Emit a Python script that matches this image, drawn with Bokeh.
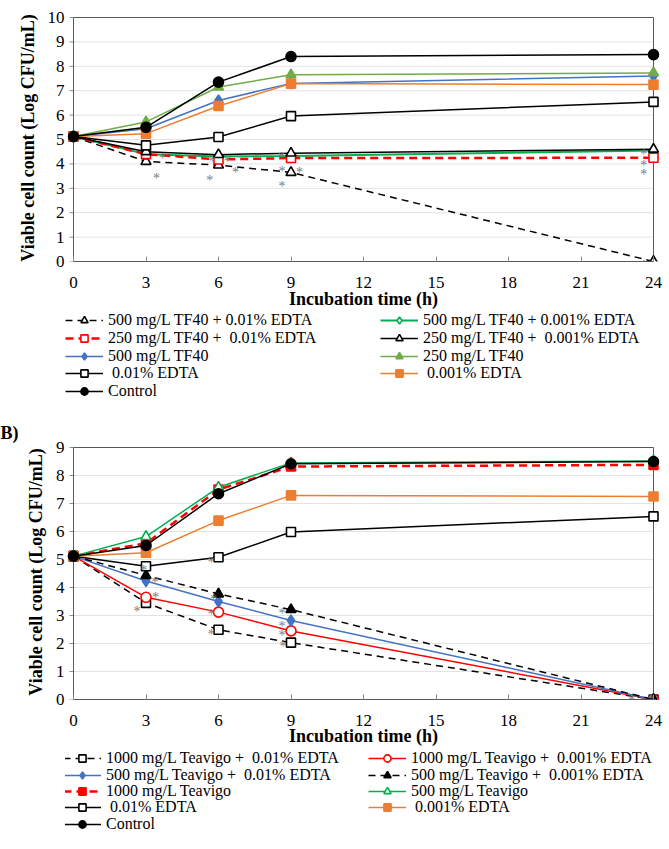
from bokeh.plotting import figure
from bokeh.models import Range1d, FixedTicker, Legend, LegendItem, ColumnDataSource
from bokeh.layouts import column
from bokeh.core.properties import value
from bokeh.embed import file_html
from bokeh.resources import INLINE

# ---------------- data ----------------
times = [0, 3, 6, 9, 24]
x_ticks = [0, 3, 6, 9, 12, 15, 18, 21, 24]
X_MAX = 24

# Panel A (TF40)
a_labels = [
    "500 mg/L TF40 + 0.01% EDTA",
    "500 mg/L TF40 + 0.001% EDTA",
    "250 mg/L TF40 +  0.01% EDTA",
    "250 mg/L TF40 +  0.001% EDTA",
    "500 mg/L TF40",
    "250 mg/L TF40",
    " 0.01% EDTA",
    " 0.001% EDTA",
    "Control",
]
a_tf500_edta01 = [5.12, 4.10, 3.95, 3.65, 0.0]
a_tf500_edta001 = [5.12, 4.40, 4.30, 4.32, 4.55]
a_tf250_edta01 = [5.12, 4.40, 4.18, 4.24, 4.25]
a_tf250_edta001 = [5.12, 4.50, 4.38, 4.44, 4.60]
a_tf500 = [5.12, 5.44, 6.60, 7.30, 7.60]
a_tf250 = [5.12, 5.72, 7.15, 7.65, 7.73]
a_edta01 = [5.12, 4.76, 5.10, 5.96, 6.54]
a_edta001 = [5.12, 5.24, 6.37, 7.29, 7.25]
a_control = [5.12, 5.50, 7.35, 8.40, 8.48]
a_star_x = [3.43, 3.68, 5.64, 5.74, 6.36, 6.70, 8.60, 8.63, 8.63, 9.35, 23.6, 23.6, 23.6, 23.6]
a_star_y = [3.73, 4.53, 3.66, 4.42, 4.42, 3.98, 4.60, 4.00, 3.39, 3.98, 4.73, 4.27, 3.90, 0.15]

# Panel B (Teavigo)
b_labels = [
    "1000 mg/L Teavigo +  0.01% EDTA",
    "1000 mg/L Teavigo +  0.001% EDTA",
    "500 mg/L Teavigo +  0.01% EDTA",
    "500 mg/L Teavigo +  0.001% EDTA",
    "1000 mg/L Teavigo",
    "500 mg/L Teavigo",
    " 0.01% EDTA",
    " 0.001% EDTA",
    "Control",
]
b_t1000_edta01 = [5.12, 3.45, 2.49, 2.03, 0.0]
b_t1000_edta001 = [5.12, 3.65, 3.12, 2.45, 0.0]
b_t500_edta01 = [5.12, 4.23, 3.50, 2.82, 0.0]
b_t500_edta001 = [5.12, 4.43, 3.77, 3.21, 0.0]
b_t1000 = [5.12, 5.58, 7.50, 8.32, 8.38]
b_t500 = [5.12, 5.82, 7.58, 8.45, 8.52]
b_edta01 = [5.12, 4.76, 5.08, 5.98, 6.54]
b_edta001 = [5.12, 5.24, 6.39, 7.29, 7.25]
b_control = [5.12, 5.50, 7.35, 8.42, 8.50]
b_star_x = [2.91, 3.37, 3.39, 2.63, 5.70, 5.80, 5.70, 5.70, 8.63, 8.63, 8.63, 8.67, 22.13, 23.10, 23.55, 23.90]
b_star_y = [4.90, 4.45, 3.93, 3.42, 5.17, 3.86, 3.32, 2.61, 3.36, 2.90, 2.56, 2.17, 0.03, 0.25, 0.10, 0.28]

# ---------------- styles ----------------
BLACK = "#000000"
BLUE = "#4472c4"
ORANGE = "#ed7d31"
GREEN_L = "#70ad47"
GREEN = "#00b050"
RED = "#ff0000"
AXIS = "#595959"
SERIF = "Liberation Serif"

# (color, dash, line width, marker, filled, size)
a_styles = [
    (BLACK, "7 5", 1.5, "triangle", False, 10),
    (GREEN, "solid", 2, "diamond", False, 11),
    (RED, "8 5", 2.5, "square", False, 9),
    (BLACK, "solid", 1.5, "triangle", False, 10),
    (BLUE, "solid", 1.5, "diamond", True, 11),
    (GREEN_L, "solid", 1.5, "triangle", True, 10),
    (BLACK, "solid", 1.5, "square", False, 9),
    (ORANGE, "solid", 1.5, "square", True, 9),
    (BLACK, "solid", 1.5, "circle", True, 10),
]
b_styles = [
    (BLACK, "7 5", 1.5, "square", False, 9),
    (RED, "solid", 1.5, "circle", False, 10),
    (BLUE, "solid", 1.5, "diamond", True, 11),
    (BLACK, "7 5", 1.5, "triangle", True, 10),
    (RED, "8 5", 2.5, "square", True, 9),
    (GREEN, "solid", 1.5, "triangle", False, 10),
    (BLACK, "solid", 1.5, "square", False, 9),
    (ORANGE, "solid", 1.5, "square", True, 9),
    (BLACK, "solid", 1.5, "circle", True, 10),
]

PLOT_W = 580  # pixel width of the 0..24 h axis
PAD = 8       # extra frame pixels left/right so edge markers are not clipped
LEFT = 73     # pixel position of x = 0
ROW_H = 18    # legend row box height


def draw_series(p, series, styles):
    rends = []
    for ys, st in zip(series, styles):
        color, dash, lw, marker, filled, size = st
        src = ColumnDataSource(dict(t=times, v=ys))
        lr = p.line("t", "v", source=src, line_color=color, line_width=lw, line_dash=dash)
        sr = p.scatter("t", "v", source=src, marker=marker, size=size,
                       line_color=color, line_width=1.6,
                       fill_color=color if filled else "white")
        rends.append([lr, sr])
    return rends


def make_chart(height, border_top, plot_h, ymax, series, styles, star_x, star_y,
               title_standoff, tag=None):
    px_x = PLOT_W / X_MAX
    px_y = plot_h / ymax
    pad_x = PAD / px_x
    pad_top = 3 / px_y
    p = figure(width=669, height=height, output_backend="svg", toolbar_location=None,
               x_range=Range1d(-pad_x, X_MAX + pad_x), y_range=Range1d(0, ymax + pad_top),
               min_border_left=LEFT - PAD, min_border_right=16 - PAD,
               min_border_top=border_top - 3, min_border_bottom=height - border_top - plot_h)
    p.background_fill_color = "white"
    p.border_fill_color = "white"
    p.outline_line_color = None
    p.xgrid.grid_line_color = None
    p.ygrid.grid_line_color = None

    yt = list(range(0, ymax + 1))
    n = len(yt)
    # horizontal gridlines, box (top/right), y axis line and its outward ticks
    p.segment(x0=[0] * n, y0=yt, x1=[X_MAX] * n, y1=yt, line_color="#e3e3e3", line_width=1)
    p.segment(x0=[-4 / px_x] * n, y0=yt, x1=[0] * n, y1=yt, line_color="#8c8c8c", line_width=1)
    p.segment(x0=[0, X_MAX, 0], y0=[ymax, 0, 0], x1=[X_MAX, X_MAX, 0], y1=[ymax, ymax, ymax],
              line_color=AXIS, line_width=1)

    p.xaxis.ticker = FixedTicker(ticks=x_ticks)
    p.yaxis.ticker = FixedTicker(ticks=yt)
    p.xaxis.bounds = (0, X_MAX)
    p.yaxis.bounds = (0, ymax)
    for ax in (p.xaxis[0], p.yaxis[0]):
        ax.major_tick_line_color = "#8c8c8c"
        ax.minor_tick_line_color = None
        ax.major_label_text_font = SERIF
        ax.major_label_text_font_size = "17px"
        ax.major_label_text_color = "black"
        ax.axis_label_text_font = SERIF
        ax.axis_label_text_font_size = "18px"
        ax.axis_label_text_font_style = "bold"
        ax.axis_label_text_color = "black"
    p.xaxis.axis_line_color = AXIS
    p.xaxis.major_tick_in = 5
    p.xaxis.major_tick_out = 0
    p.xaxis.major_label_standoff = 15
    p.xaxis.axis_label = "Incubation time (h)"
    p.xaxis.axis_label_standoff = title_standoff
    p.yaxis.axis_line_color = None
    p.yaxis.major_tick_line_color = None
    p.yaxis.major_tick_in = 0
    p.yaxis.major_tick_out = 0
    p.yaxis.major_label_standoff = 1
    p.yaxis.axis_label = "Viable cell count (Log CFU/mL)"
    p.yaxis.axis_label_standoff = 7

    draw_series(p, series, styles)

    p.text(x=star_x, y=star_y, text=["*"] * len(star_x), text_font=value(SERIF),
           text_font_size="14px", text_color="#7a7a7a", text_align="center",
           text_baseline="alphabetic", y_offset=8)

    if tag:
        p.title.text = tag
        p.title.align = "left"
        p.title.offset = -(LEFT - PAD)
        p.title.standoff = 3
        p.title.text_font = SERIF
        p.title.text_font_size = "18px"
        p.title.text_font_style = "bold"
        p.title.text_color = "black"
    return p


def make_legend_fig(height, series, labels, styles, col_x, row_centers):
    """Two-column legend; every entry is placed at its own row centre (pixels from top)."""
    q = figure(width=669, height=height, output_backend="svg", toolbar_location=None,
               x_range=Range1d(-100, -99), y_range=Range1d(-100, -99),
               x_axis_type=None, y_axis_type=None,
               min_border_left=LEFT - PAD, min_border_right=0,
               min_border_top=0, min_border_bottom=0)
    q.outline_line_color = None
    q.xgrid.grid_line_color = None
    q.ygrid.grid_line_color = None
    rends = draw_series(q, series, styles)
    for k, (lab, r) in enumerate(zip(labels, rends)):
        col, row = k % 2, k // 2
        vy = height - row_centers[row] - ROW_H / 2
        lg = Legend(items=[LegendItem(label=lab, renderers=r)],
                    location=(col_x[col], vy), orientation="vertical",
                    label_text_font=SERIF, label_text_font_size="16px",
                    label_text_color="black",
                    glyph_width=38, glyph_height=ROW_H,
                    label_height=ROW_H, label_standoff=5, spacing=0, padding=0,
                    margin=0, border_line_color=None, background_fill_alpha=0)
        q.add_layout(lg, "center")
    return q


a_series = [a_tf500_edta01, a_tf500_edta001, a_tf250_edta01, a_tf250_edta001,
            a_tf500, a_tf250, a_edta01, a_edta001, a_control]
b_series = [b_t1000_edta01, b_t1000_edta001, b_t500_edta01, b_t500_edta001,
            b_t1000, b_t500, b_edta01, b_edta001, b_control]

pA = make_chart(311, 17, 244, 10, a_series, a_styles, a_star_x, a_star_y, -2)
legA = make_legend_fig(93, a_series, a_labels, a_styles, (0, 315), [9, 27, 45, 62, 80])
pB = make_chart(345, 43, 252, 9, b_series, b_styles, b_star_x, b_star_y, -3, tag="B)")
legB = make_legend_fig(100, b_series, b_labels, b_styles, (-2, 303), [9, 26, 42, 58, 75])

layout = column(pA, legA, pB, legB, spacing=0)
open("out.html", "w").write(file_html(layout, INLINE))
